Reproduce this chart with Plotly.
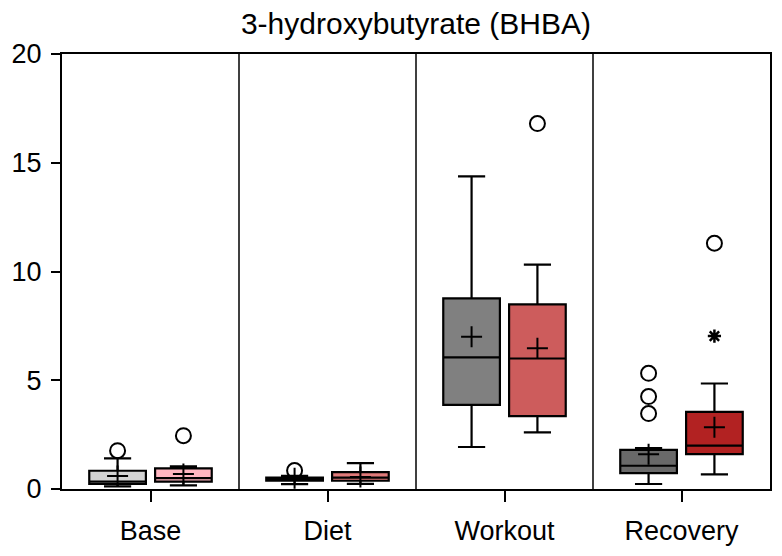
import plotly.graph_objects as go

phases = ["Base", "Diet", "Workout", "Recovery"]

# grey group (left box in each phase)
grey_q1 = [0.23, 0.38, 3.87, 0.73]
grey_median = [0.34, 0.45, 6.05, 1.07]
grey_q3 = [0.84, 0.52, 8.76, 1.80]
grey_lower = [0.12, 0.22, 1.93, 0.23]
grey_upper = [1.41, 0.60, 14.37, 1.88]
grey_mean = [0.60, 0.50, 7.00, 1.60]
grey_outliers = [[1.76], [0.85], [], [3.47, 4.25, 5.32]]
grey_colors = ["#d3d3d3", "#a9a9a9", "#808080", "#696969"]

# red group (right box in each phase)
red_q1 = [0.34, 0.38, 3.35, 1.60]
red_median = [0.50, 0.52, 6.00, 1.99]
red_q3 = [0.95, 0.78, 8.49, 3.55]
red_lower = [0.17, 0.24, 2.60, 0.67]
red_upper = [1.04, 1.19, 10.32, 4.85]
red_mean = [0.69, 0.55, 6.47, 2.84]
red_outliers = [[2.45], [], [16.8], [11.3]]
red_extreme = [[], [], [], [7.03]]
red_colors = ["#ffb6c1", "#e07a7a", "#cd5c5c", "#b22222"]

yticks = [0, 5, 10, 15, 20]

FONT = "Liberation Sans, Arial, sans-serif"
OFFSET = 0.186
BOX_W = 0.32

fig = go.Figure()


def add_group(q1, med, q3, lo, hi, mean, outl, colors, shift, extreme=None):
    for i in range(len(phases)):
        xpos = i + shift
        fig.add_trace(go.Box(
            x=[xpos], q1=[q1[i]], median=[med[i]], q3=[q3[i]],
            lowerfence=[lo[i]], upperfence=[hi[i]],
            width=BOX_W, whiskerwidth=0.48,
            fillcolor=colors[i],
            line=dict(color="black", width=2.2),
            showlegend=False, hoverinfo="skip",
        ))
        fig.add_trace(go.Scatter(
            x=[xpos], y=[mean[i]], mode="markers",
            marker=dict(symbol="cross-thin-open", size=15, color="black",
                        line=dict(color="black", width=2)),
            showlegend=False, hoverinfo="skip",
        ))
        if outl[i]:
            fig.add_trace(go.Scatter(
                x=[xpos] * len(outl[i]), y=outl[i], mode="markers",
                marker=dict(symbol="circle-open", size=15, color="black",
                            line=dict(color="black", width=2)),
                showlegend=False, hoverinfo="skip",
            ))
        if extreme and extreme[i]:
            fig.add_trace(go.Scatter(
                x=[xpos] * len(extreme[i]), y=extreme[i], mode="markers",
                marker=dict(symbol="asterisk-open", size=11, color="black",
                            line=dict(color="black", width=2.5)),
                showlegend=False, hoverinfo="skip",
            ))


add_group(grey_q1, grey_median, grey_q3, grey_lower, grey_upper, grey_mean,
          grey_outliers, grey_colors, -OFFSET)
add_group(red_q1, red_median, red_q3, red_lower, red_upper, red_mean,
          red_outliers, red_colors, OFFSET, red_extreme)

# panel separators
for k in range(1, len(phases)):
    fig.add_shape(type="line", xref="x", yref="paper", x0=k - 0.5, x1=k - 0.5,
                  y0=0, y1=1, line=dict(color="black", width=1.5))

# page body has an 8px margin on every side, so keep the figure inside the window
fig.update_layout(
    width=766, height=540,
    margin=dict(l=54, r=2, t=46, b=58),
    plot_bgcolor="white", paper_bgcolor="white",
    font=dict(family=FONT, color="black", size=27),
    title=dict(text="3-hydroxybutyrate (BHBA)", x=0.5, xref="paper",
               y=1, yref="container", yanchor="top", pad=dict(t=5),
               font=dict(size=30)),
)
fig.update_xaxes(
    range=[-0.5, len(phases) - 0.5],
    tickvals=list(range(len(phases))), ticktext=phases,
    ticks="outside", ticklen=11, tickwidth=1.5, tickcolor="black",
    ticklabelstandoff=6,
    showline=True, linecolor="black", linewidth=2, mirror=True,
    showgrid=False, zeroline=False,
)
fig.update_yaxes(
    range=[0, 20], tickvals=yticks,
    ticks="outside", ticklen=9, tickwidth=1.5, tickcolor="black",
    ticklabelstandoff=4,
    showline=True, linecolor="black", linewidth=2, mirror=True,
    showgrid=False, zeroline=False,
)

fig.write_html("out.html")
